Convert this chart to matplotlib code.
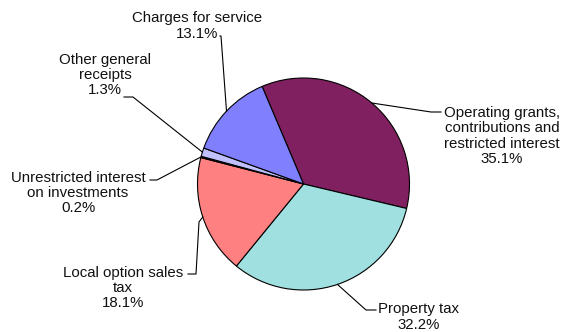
import numpy as np
import matplotlib.pyplot as plt

plt.rcParams["font.family"] = ["Liberation Sans", "DejaVu Sans"]

labels = [
    "Operating grants,\ncontributions and\nrestricted interest",
    "Property tax",
    "Local option sales\ntax",
    "Unrestricted interest\non investments",
    "Other general\nreceipts",
    "Charges for service",
]
shares = [35.1, 32.2, 18.1, 0.2, 1.3, 13.1]
colors = ["#802060", "#A0E0E0", "#FF8080", "#202040", "#C0C0FF", "#8080FF"]

# label centres and leader elbows (pixel coords, y down)
text_pos = [(502, 136), (419, 317), (123, 288), (78, 193), (105, 75), (197, 26)]
leader = [
    [(441, 112), (431, 112)],
    [(376, 310), (366, 310)],
    [(188, 274), (196, 274), (199, 222)],
    [(150, 180), (157, 180)],
    [(124, 97), (133, 97)],
    [(220, 36), (221, 36)],
]

W, H = 563, 332
fig = plt.figure(figsize=(W / 100, H / 100), dpi=100)
ax = fig.add_axes([0, 0, 1, 1])

cx, cy, r = 303.5, H - 184, 106
wedges, _ = ax.pie(
    shares, colors=colors, startangle=113, counterclock=False,
    center=(cx, cy), radius=r, frame=True,
    wedgeprops=dict(edgecolor="black", linewidth=0.8),
)
ax.set_xlim(0, W)
ax.set_ylim(0, H)
ax.axis("off")

for w, lab, val, (tx, ty), pts in zip(wedges, labels, shares, text_pos, leader):
    mid = np.deg2rad((w.theta1 + w.theta2) / 2)
    ex, ey = cx + r * np.cos(mid), cy + r * np.sin(mid)
    xs = [p[0] for p in pts] + [ex]
    ys = [H - p[1] for p in pts] + [ey]
    ax.plot(xs, ys, color="black", linewidth=0.8)
    ax.text(tx, H - ty, f"{lab}\n{val:.1f}%", ha="center", va="center",
            multialignment="center", fontsize=10.8, linespacing=1.12,
            color="#111111")

fig.savefig("out.png", dpi=100)
